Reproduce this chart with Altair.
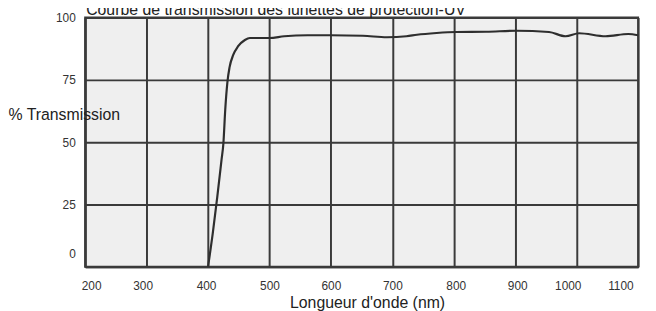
import altair as alt
import pandas as pd

# Data
wavelength_nm = [400, 408, 415, 422, 425, 428, 431.5, 435, 441, 449, 460, 468,
                 500, 524, 562, 600, 652, 691, 723, 740, 772, 804, 853, 902,
                 955, 982, 1004, 1047, 1084, 1100]
transmission_pct = [0, 14, 28, 43, 49.5, 63, 74, 80, 85, 88.5, 91, 91.8,
                    91.8, 92.5, 92.9, 92.9, 92.7, 92.1, 92.5, 93.1, 93.8, 94.2, 94.3, 94.7,
                    94.2, 92.5, 93.7, 92.5, 93.4, 92.9]
x_ticks = [200, 300, 400, 500, 600, 700, 800, 900, 1000, 1100]
y_ticks = [0, 25, 50, 75, 100]
title_text = ["Courbe de transmission des lunettes de protection-UV"]

FONT = "Liberation Sans"
GRID = "#3a3a3a"

df = pd.DataFrame({"nm": wavelength_nm, "pct": transmission_pct})

x_label_offsets = {200: -4, 300: -4, 400: -2, 800: 2, 900: 2, 1000: -9, 1100: -5}

line = alt.Chart(df).mark_line(color="#2e2e2e", strokeWidth=2.2, interpolate="monotone").encode(
    x=alt.X("nm:Q",
            scale=alt.Scale(domain=[200, 1100], nice=False, zero=False),
            axis=alt.Axis(values=x_ticks, title="Longueur d'onde (nm)", format="d",
                          ticks=False, labelPadding=14, labelFontSize=12,
                          labelFont=FONT, labelColor="#333333",
                          labelOffset={"condition": [{"test": f"datum.value == {k}", "value": v}
                                                     for k, v in x_label_offsets.items()],
                                       "value": 0},
                          titleFont=FONT, titleFontSize=16, titleFontWeight="normal",
                          titleColor="#222222", titleX=285, titleY=41,
                          titleBaseline="alphabetic", titleAlign="center",
                          grid=True, gridColor=GRID, gridWidth=2,
                          domainColor=GRID, domainWidth=2)),
    y=alt.Y("pct:Q",
            scale=alt.Scale(domain=[0, 100], nice=False),
            axis=alt.Axis(values=y_ticks, title="% Transmission",
                          ticks=False, labelPadding=10, labelFontSize=12,
                          labelFont=FONT, labelColor="#333333",
                          labelOffset={"condition": {"test": "datum.value == 0", "value": -13},
                                       "value": 0},
                          titleFont=FONT, titleFontSize=16, titleFontWeight="normal",
                          titleColor="#222222", titleAngle=0, titleX=-78, titleY=103,
                          titleAlign="left", titleBaseline="alphabetic",
                          grid=True, gridColor=GRID, gridWidth=2,
                          domainColor=GRID, domainWidth=2)),
)

title = alt.Chart(pd.DataFrame({"t": title_text})).mark_text(
    align="left", baseline="alphabetic", font=FONT, fontSize=16, color="#222222"
).encode(text="t:N", x=alt.value(1), y=alt.value(-3))

chart = alt.layer(line, title).properties(
    width=559, height=252,
    autosize=alt.AutoSizeParams(type="none"),
    padding={"left": 78, "top": 8, "right": 10, "bottom": 43},
    background="white",
).configure_view(fill="#efefef", stroke=GRID, strokeWidth=2)

chart.save("out.html", embed_options={"renderer": "svg", "actions": False})
